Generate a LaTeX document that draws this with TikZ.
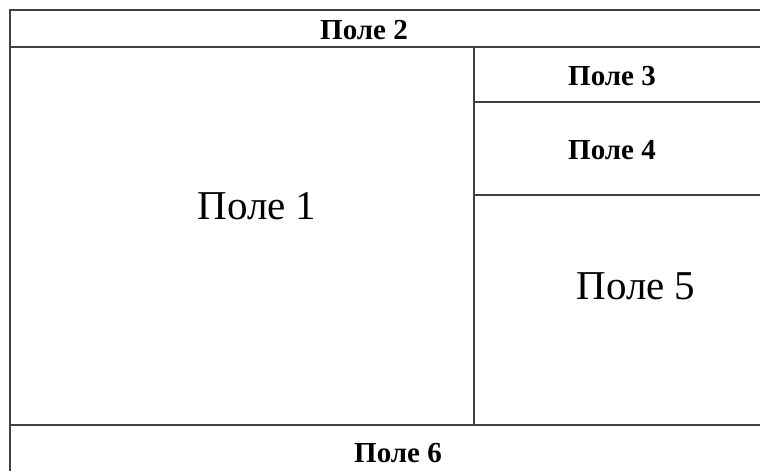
\documentclass[tikz,border=0pt]{standalone}
\usepackage{fontspec}
\setmainfont{Liberation Serif}
\usepackage{tikz}

\begin{document}
\begin{tikzpicture}[
    x=1pt, y=-1pt,
    frame/.style={line width=1.6pt, black!75},
    big/.style={font=\fontsize{41}{42}\selectfont},
    small/.style={font=\bfseries\fontsize{29}{30}\selectfont},
]

    \useasboundingbox (0,0) rectangle (760,471);

    % outer frame and dividers
    \draw[frame] (760,10) -- (10,10) -- (10,471);
    \draw[frame] (10,47) -- (760,47);
    \draw[frame] (10,425) -- (760,425);
    \draw[frame] (474,47) -- (474,425);
    \draw[frame] (474,102) -- (760,102);
    \draw[frame] (474,195) -- (760,195);

    \node[big] (f1) at (257,206) {Поле 1};
    \node[small] (f2) at (364,30) {Поле 2};
    \node[small] (f3) at (612,76) {Поле 3};
    \node[small] (f4) at (612,150) {Поле 4};
    \node[big] (f5) at (636,286) {Поле 5};
    \node[small] (f6) at (398,453) {Поле 6};

\end{tikzpicture}
\end{document}
